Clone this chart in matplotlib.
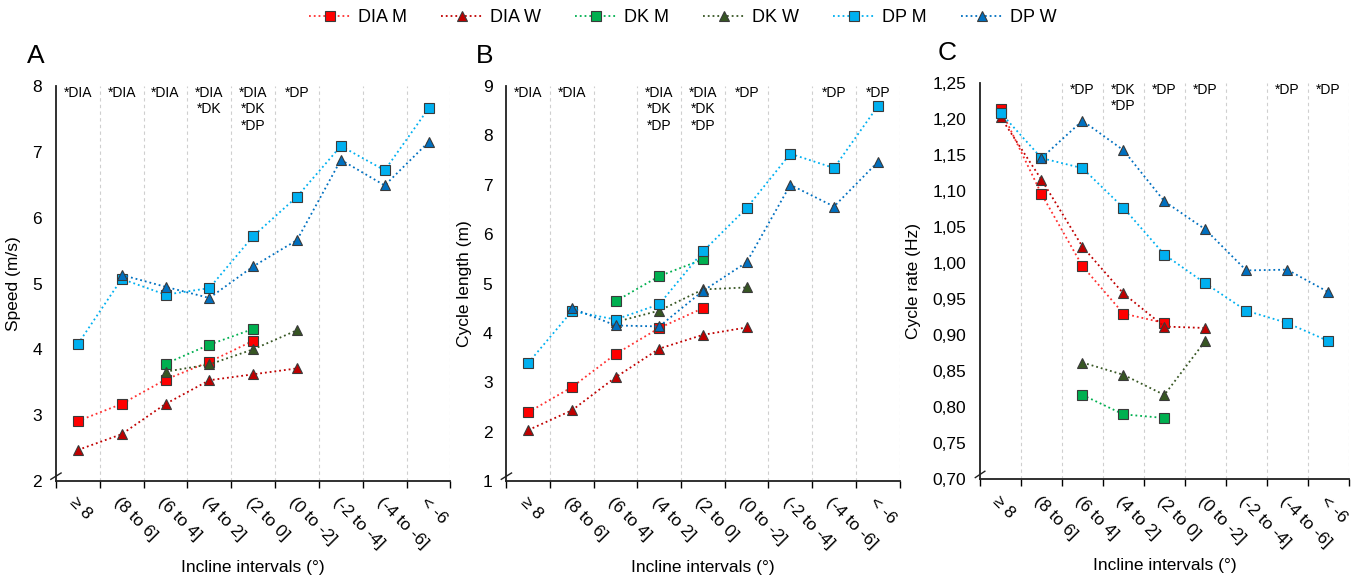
import numpy as np
import matplotlib
matplotlib.use("Agg")
import matplotlib.pyplot as plt
from matplotlib.ticker import FuncFormatter

plt.rcParams['font.family'] = ['Liberation Sans', 'DejaVu Sans']

nan = np.nan
categories = ["\u2265 8", "(8 to 6]", "(6 to 4]", "(4 to 2]", "(2 to 0]",
              "(0 to -2]", "(-2 to -4]", "(-4 to -6]", "< -6"]

# panel A: speed (m/s)
speed_dia_m = [2.91, 3.17, 3.54, 3.81, 4.13, nan, nan, nan, nan]
speed_dia_w = [2.47, 2.71, 3.17, 3.53, 3.62, 3.71, nan, nan, nan]
speed_dk_m = [nan, nan, 3.78, 4.07, 4.31, nan, nan, nan, nan]
speed_dk_w = [nan, nan, 3.66, 3.77, 4.00, 4.29, nan, nan, nan]
speed_dp_m = [4.08, 5.07, 4.83, 4.93, 5.72, 6.32, 7.09, 6.72, 7.66]
speed_dp_w = [nan, 5.13, 4.95, 4.78, 5.26, 5.66, 6.88, 6.49, 7.15]

# panel B: cycle length (m)
length_dia_m = [2.39, 2.90, 3.57, 4.10, 4.50, nan, nan, nan, nan]
length_dia_w = [2.03, 2.43, 3.10, 3.68, 3.96, 4.11, nan, nan, nan]
length_dk_m = [nan, nan, 4.64, 5.15, 5.49, nan, nan, nan, nan]
length_dk_w = [nan, nan, 4.22, 4.45, 4.88, 4.92, nan, nan, nan]
length_dp_m = [3.39, 4.44, 4.27, 4.58, 5.65, 6.53, 7.63, 7.34, 8.59]
length_dp_w = [nan, 4.50, 4.15, 4.13, 4.85, 5.43, 7.00, 6.56, 7.46]

# panel C: cycle rate (Hz)
rate_dia_m = [1.214, 1.096, 0.996, 0.930, 0.917, nan, nan, nan, nan]
rate_dia_w = [1.203, 1.116, 1.023, 0.958, 0.912, 0.910, nan, nan, nan]
rate_dk_m = [nan, nan, 0.817, 0.790, 0.785, nan, nan, nan, nan]
rate_dk_w = [nan, nan, 0.862, 0.845, 0.817, 0.892, nan, nan, nan]
rate_dp_m = [1.209, 1.146, 1.132, 1.077, 1.012, 0.972, 0.934, 0.917, 0.892]
rate_dp_w = [nan, 1.146, 1.198, 1.157, 1.086, 1.047, 0.990, 0.991, 0.960]

notes_a = ["*DIA", "*DIA", "*DIA", "*DIA\n*DK", "*DIA\n*DK\n*DP", "*DP", "", "", ""]
notes_b = ["*DIA", "*DIA", "", "*DIA\n*DK\n*DP", "*DIA\n*DK\n*DP", "*DP", "", "*DP", "*DP"]
notes_c = ["", "", "*DP", "*DK\n*DP", "*DP", "*DP", "", "*DP", "*DP"]

series_names = ["DIA M", "DIA W", "DK M", "DK W", "DP M", "DP W"]
face_colors = ["#ff0000", "#c00000", "#00b050", "#375623", "#00b0f0", "#0070c0"]
line_colors = ["#ff3030", "#c00000", "#00b050", "#375623", "#00b0f0", "#0070c0"]
markers = ["s", "^", "s", "^", "s", "^"]

fig = plt.figure(figsize=(13.65, 5.78), dpi=100)

panels = [
    ("A", -0.05, [0.041, 0.168, 0.289, 0.683],
     [speed_dia_m, speed_dia_w, speed_dk_m, speed_dk_w, speed_dp_m, speed_dp_w],
     (2, 8), np.arange(2, 9, 1), "Speed (m/s)", notes_a, "%d"),
    ("B", -0.056, [0.371, 0.168, 0.288, 0.683],
     [length_dia_m, length_dia_w, length_dk_m, length_dk_w, length_dp_m, length_dp_w],
     (1, 9), np.arange(1, 10, 1), "Cycle length (m)", notes_b, "%d"),
    ("C", -0.089, [0.718, 0.171, 0.270, 0.685],
     [rate_dia_m, rate_dia_w, rate_dk_m, rate_dk_w, rate_dp_m, rate_dp_w],
     (0.70, 1.25), np.arange(0.70, 1.2501, 0.05), "Cycle rate (Hz)", notes_c, "comma"),
]

x = np.arange(len(categories)) + 0.5
handles = []
for letter, lx, rect, data, ylim, yticks, ylabel, notes, fmt in panels:
    ax = fig.add_axes(rect)
    for i, vals in enumerate(data):
        h, = ax.plot(x, vals, linestyle=":", linewidth=1.3, color=line_colors[i],
                     marker=markers[i], markersize=7.5 if markers[i] == "^" else 6.5,
                     markerfacecolor=face_colors[i], markeredgecolor="#3a3a3a",
                     markeredgewidth=0.8, label=series_names[i], clip_on=False, zorder=3)
        handles.append(h)
    ax.set_xlim(0, 9)
    ax.set_ylim(*ylim)
    ax.set_yticks(yticks)
    if fmt == "comma":
        ax.yaxis.set_major_formatter(FuncFormatter(lambda v, p: ("%.2f" % v).replace(".", ",")))
    ax.tick_params(axis="y", length=0, labelsize=12.5, pad=10)
    ax.set_xticks(np.arange(0, 10))
    ax.set_xticklabels([])
    ax.set_xticks(x, minor=True)
    ax.set_xticklabels(categories, minor=True, rotation=-45, ha="left", va="top",
                       rotation_mode="anchor", fontsize=12.5)
    ax.tick_params(axis="x", which="major", length=5, width=1, direction="out")
    ax.tick_params(axis="x", which="minor", length=0, pad=10)
    for b in range(1, 10):
        ax.axvline(b, color="#cfcfcf", linewidth=0.8, linestyle=(0, (3, 3)), zorder=0)
    for s in ["top", "right"]:
        ax.spines[s].set_visible(False)
    ax.spines["left"].set_color("#202020")
    ax.spines["bottom"].set_color("#202020")
    ax.spines["left"].set_linewidth(1.3)
    ax.spines["bottom"].set_linewidth(1.3)
    ax.set_ylabel(ylabel, fontsize=12.5, labelpad=8)
    ax.set_xlabel("Incline intervals (\u00b0)", fontsize=12.5, labelpad=6)
    # axis break mark
    ax.plot([-0.013, 0.013], [0.004, 0.02], transform=ax.transAxes, color="#202020",
            linewidth=1, clip_on=False)
    for i, n in enumerate(notes):
        if n:
            ax.text(x[i], ylim[1], n, ha="center", va="top", fontsize=10,
                    linespacing=1.2)
    ax.text(lx, 1.076, letter, transform=ax.transAxes, fontsize=19, ha="center",
            va="center")

fig.legend(handles[:6], series_names, loc="upper center", bbox_to_anchor=(0.5, 1.012),
           ncol=6, frameon=False, fontsize=13, handlelength=2.3, columnspacing=1.9,
           handletextpad=0.4)

fig.savefig("out.png", dpi=100)
